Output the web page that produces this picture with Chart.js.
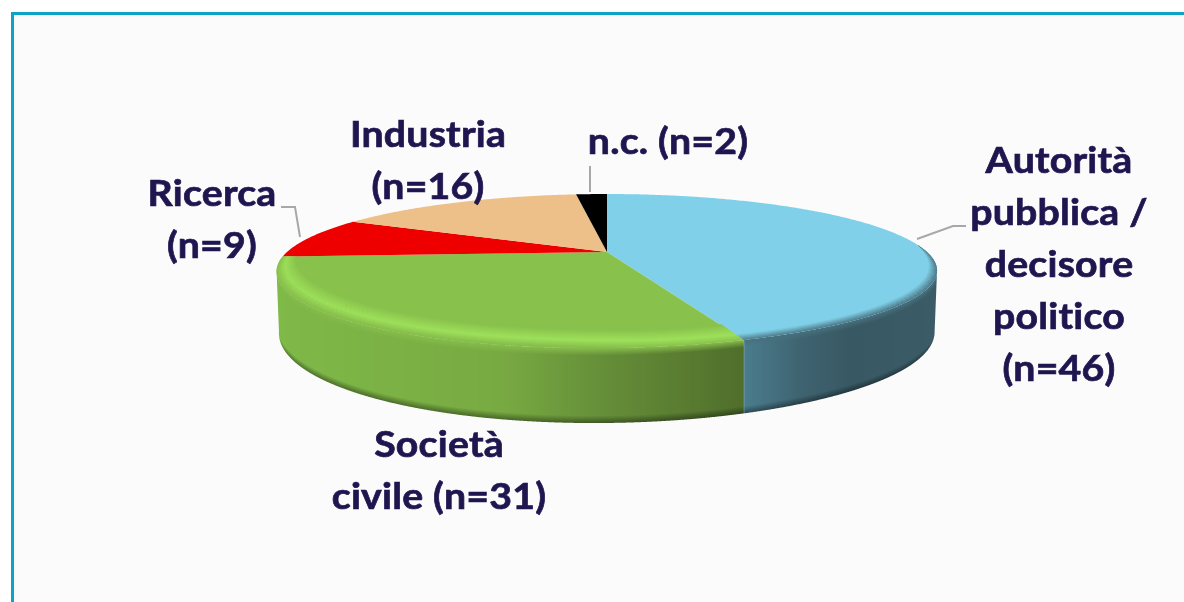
<!DOCTYPE html>
<html>
<head>
<meta charset="utf-8">
<style>
  html, body { margin: 0; padding: 0; background: #fff; overflow: hidden; }
  #frame { position: absolute; left: 11px; top: 12px; width: 1300px; height: 700px; border: 3px solid #0ba3c6; background: #fbfbfb; }
  #myChart { position: absolute; left: 0; top: 0; }
</style>
</head>
<body>
<div id="frame"></div>
<canvas id="myChart" width="1184" height="602"></canvas>
<script src="https://cdn.jsdelivr.net/npm/chart.js@4"></script>
<script>
const categories = ['Autorità pubblica / decisore politico', 'Società civile', 'Ricerca', 'Industria', 'n.c.'];
const counts = [46, 31, 9, 16, 2];
const faceColors = ['#7fd0e8', '#88c14b', '#ee0000', '#ecc088', '#000000'];

// wrapped the same way as the picture
const labelLines = [
    ['Autorità', 'pubblica /', 'decisore', 'politico', '(n=46)'],
    ['Società', 'civile (n=31)'],
    ['Ricerca', '(n=9)'],
    ['Industria', '(n=16)'],
    ['n.c. (n=2)']
];
const labelAnchors = [[1059, 161], [439, 445], [212, 194], [428, 135], [668, 142]];
const leaderLines = [
    [[917, 239], [953, 226], [966, 226]],
    [[281, 207], [295, 207], [300, 237]],
    [[590, 166], [590, 192]]
];

// fake 3D view of the pie: centre, radii, perspective, thickness, front skew
const view = { cx: 607, cy: 252, a: 320, b: 72.3, k: 0.247, depth: 56.5, skew: 13, taper: 3 };

// side colour by screen x, for the two slices whose wall can be seen
const wallStops = {
    0: [[745, '#4a7c8d'], [800, '#3f6370'], [850, '#385863'], [937, '#3b5c67']],
    1: [[277, '#7fb948'], [500, '#78aa42'], [600, '#668f39'], [744, '#4f6e2b']]
};
const bevelColors = { 0: ['#7fd0e8', '#7fd0e8', '#47707e'], 1: ['#88c14b', '#9de05a', '#86bd4b'] };

function hexToRgb(hex) {
    return [1, 3, 5].map(i => parseInt(hex.substr(i, 2), 16));
}

function wallColor(index, x) {
    const stops = wallStops[index];
    let i = 0;
    while (i < stops.length - 2 && x > stops[i + 1][0]) i++;
    const t = Math.min(1, Math.max(0, (x - stops[i][0]) / (stops[i + 1][0] - stops[i][0])));
    const c0 = hexToRgb(stops[i][1]);
    const c1 = hexToRgb(stops[i + 1][1]);
    return c0.map((c, j) => Math.round(c + (c1[j] - c) * t));
}

function rgb(c, f) {
    const m = f === undefined ? 1 : f;
    return 'rgb(' + c.map(v => Math.round(v * m)).join(',') + ')';
}

// theta is clockwise from 12 o'clock, r goes 0..1 on the pie disc
function project(theta, r) {
    const u = r * Math.sin(theta);
    const v = -r * Math.cos(theta);
    const w = 1 - view.k * v;
    const front = Math.max(v, 0);
    return {
        x: view.cx + view.a * u / w - view.skew * front * front * front,
        y: view.cy + view.b * v / w,
        w: w
    };
}

function bevelRadius(theta) {
    const v = -Math.cos(theta);
    const v0 = Math.min(1, Math.max(0, (v + 0.1) / 1.1));
    return 1 - 0.15 * Math.pow(v0, 0.7);
}

function drawWall(ctx, arc, index) {
    const start = arc.startAngle + Math.PI / 2;
    const end = arc.endAngle + Math.PI / 2;
    const step = Math.PI / 1800;
    const columns = {};
    const top = [];
    const bottom = [];
    for (let t = start; t <= end; t += step) {
        if (-Math.cos(t) < view.k) continue;
        const p = project(t, 1);
        const d = view.depth / p.w;
        top.push([p.x, p.y]);
        // the lower edge pulls in near the far left and right so the corners look round
        const pull = view.taper * Math.pow(Math.sin(t), 7);
        bottom.push([p.x - pull, p.y + d]);
        columns[Math.floor(p.x)] = { y: p.y, d: d };
    }
    ctx.save();
    ctx.beginPath();
    top.forEach((pt, i) => i ? ctx.lineTo(pt[0], pt[1]) : ctx.moveTo(pt[0], pt[1]));
    bottom.reverse().forEach(pt => ctx.lineTo(pt[0], pt[1]));
    ctx.closePath();
    ctx.clip();
    const edge = hexToRgb(bevelColors[index][2]);
    Object.keys(columns).forEach(key => {
        const x = Number(key);
        const col = columns[key];
        const c = wallColor(index, x);
        const g = ctx.createLinearGradient(0, col.y, 0, col.y + col.d);
        g.addColorStop(0, rgb(edge));
        g.addColorStop(0.1, rgb(c));
        g.addColorStop(0.9, rgb(c));
        g.addColorStop(0.97, rgb(c, 0.72));
        g.addColorStop(1, rgb(c, 0.62));
        ctx.fillStyle = g;
        ctx.fillRect(x, col.y - 3, 1, col.d + 6);
    });
    ctx.restore();
}

const pie3d = {
    id: 'pie3d',
    beforeDatasetsDraw(chart) {
        const ctx = chart.ctx;
        const arcs = chart.getDatasetMeta(0).data;
        const step = Math.PI / 360;

        // walls first
        arcs.forEach((arc, index) => {
            if (wallStops[index]) drawWall(ctx, arc, index);
        });

        // flat top, angles come from the arc elements
        arcs.forEach(arc => {
            const start = arc.startAngle + Math.PI / 2;
            const end = arc.endAngle + Math.PI / 2;
            ctx.fillStyle = arc.options.backgroundColor;
            ctx.beginPath();
            ctx.moveTo(view.cx, view.cy);
            for (let t = start; t < end; t += step) {
                const p = project(t, 1);
                ctx.lineTo(p.x, p.y);
            }
            const last = project(end, 1);
            ctx.lineTo(last.x, last.y);
            ctx.closePath();
            ctx.fill();
        });

        // rounded edge between top and wall
        arcs.forEach((arc, index) => {
            if (!bevelColors[index]) return;
            const start = arc.startAngle + Math.PI / 2;
            const end = arc.endAngle + Math.PI / 2;
            const colors = bevelColors[index];
            for (let t = start; t < end; t += step) {
                const t2 = Math.min(t + step * 1.4, end);
                const r1 = bevelRadius(t);
                const r2 = bevelRadius(t2);
                if (r1 > 0.999 && r2 > 0.999) continue;
                const a1 = project(t, r1);
                const a2 = project(t2, r2);
                const o1 = project(t, 1);
                const o2 = project(t2, 1);
                const g = ctx.createLinearGradient(a1.x, a1.y, o1.x, o1.y);
                g.addColorStop(0, colors[0]);
                g.addColorStop(0.6, colors[1]);
                g.addColorStop(1, colors[2]);
                ctx.fillStyle = g;
                ctx.beginPath();
                ctx.moveTo(a1.x, a1.y);
                ctx.lineTo(a2.x, a2.y);
                ctx.lineTo(o2.x, o2.y);
                ctx.lineTo(o1.x, o1.y);
                ctx.closePath();
                ctx.fill();
            }
        });
        return false;
    },
    afterDraw(chart) {
        const ctx = chart.ctx;
        ctx.save();
        ctx.strokeStyle = '#a8a8a8';
        ctx.lineWidth = 2;
        leaderLines.forEach(line => {
            ctx.beginPath();
            line.forEach((pt, i) => i ? ctx.lineTo(pt[0], pt[1]) : ctx.moveTo(pt[0], pt[1]));
            ctx.stroke();
        });
        ctx.fillStyle = '#1f1650';
        ctx.strokeStyle = '#1f1650';
        ctx.lineWidth = 0.7;
        ctx.font = 'bold 36px Lato';
        ctx.letterSpacing = '0.2px'; // also stops the "ti" ligature
        ctx.textAlign = 'center';
        ctx.textBaseline = 'middle';
        labelLines.forEach((lines, i) => {
            lines.forEach((text, j) => {
                ctx.save();
                ctx.translate(labelAnchors[i][0], labelAnchors[i][1] + j * 52);
                ctx.scale(1.09, 1); // the original font runs wider
                ctx.fillText(text, 0, 0);
                ctx.strokeText(text, 0, 0);
                ctx.restore();
            });
        });
        ctx.restore();
    }
};

new Chart(document.getElementById('myChart'), {
    type: 'pie',
    data: {
        labels: categories,
        datasets: [{
            data: counts,
            backgroundColor: faceColors,
            borderWidth: 0
        }]
    },
    options: {
        responsive: false,
        animation: false,
        plugins: {
            legend: { display: false },
            tooltip: { enabled: false }
        }
    },
    plugins: [pie3d]
});
</script>
</body>
</html>
